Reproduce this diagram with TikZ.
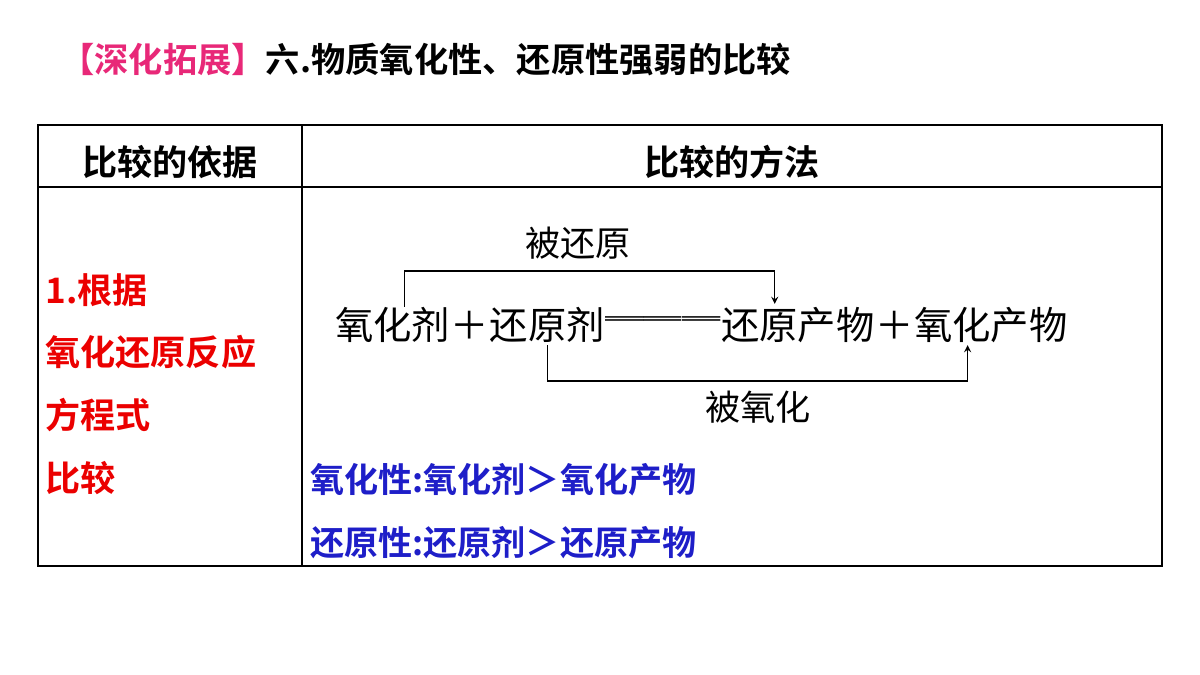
\documentclass[tikz,border=0pt]{standalone}
\usepackage{fontspec}
\newfontfamily\cjk{Noto Sans CJK SC}
\newfontfamily\cjkb{Noto Sans CJK SC Bold}
\usetikzlibrary{calc}
\definecolor{title_pink}{RGB}{232,40,120}
\definecolor{key_red}{RGB}{235,0,0}
\definecolor{rule_blue}{RGB}{30,30,200}
\tikzset{
  head/.style={font=\cjkb\fontsize{20}{23}\selectfont, inner sep=0pt},
  basis/.style={font=\cjkb\fontsize{20}{23}\selectfont, text=key_red, anchor=west, inner sep=0pt},
  rule/.style={font=\cjkb\fontsize{19.4}{23}\selectfont, text=rule_blue, anchor=west, inner sep=0pt},
  eq/.style={font=\cjk\fontsize{21.8}{26}\selectfont, inner sep=0pt},
  lbl/.style={font=\cjk\fontsize{20}{24}\selectfont, inner sep=0pt},
}
\begin{document}
\begin{tikzpicture}[x={(0.02cm,0)}, y={(0,-0.02cm)}, >=stealth]
    \useasboundingbox (0,0) rectangle (1200,675);

    % titre
    \node[head, anchor=west, font=\cjkb\fontsize{19.5}{23}\selectfont] (title) at (60,60)
      {\textcolor{title_pink}{【深化拓展】}六.物质氧化性、还原性强弱的比较};

    % tableau
    \draw[line width=0.6pt] (38,125) rectangle (1162,566);
    \draw[line width=1.6pt] (38,125) -- (1162,125);
    \draw[line width=0.6pt] (38,187) -- (1162,187);
    \draw[line width=0.6pt] (302,125) -- (302,566);

    \node[head] (hleft) at (170,162) {比较的依据};
    \node[head] (hright) at (732,162) {比较的方法};

    % colonne de gauche
    \node[basis] (b1) at (45,290) {1.根据};
    \node[basis] (b2) at (45,352) {氧化还原反应};
    \node[basis] (b3) at (45,415) {方程式};
    \node[basis] (b4) at (45,478) {比较};

    % équation
    \node[eq, anchor=west] (oxa) at (335,325) {氧化剂};
    \node[eq, anchor=west] (plus1) at (oxa.east) {＋};
    \node[eq, anchor=west] (red) at (plus1.east) {还原剂};
    \node[eq, anchor=west] (equal) at (red.east) {═══};
    \node[eq, anchor=west] (redp) at (equal.east) {还原产物};
    \node[eq, anchor=west] (plus2) at (redp.east) {＋};
    \node[eq, anchor=west] (oxp) at (plus2.east) {氧化产物};

    % flèches
    \coordinate (t1) at ($(oxa.north west)!0.6!(oxa.north east)$);
    \coordinate (t2) at ($(redp.north west)!0.35!(redp.north east)$);
    \draw[line width=0.8pt, ->] (t1) -- ++(0,-36) -| ($(t2)+(0,-3)$);
    \node[lbl] (reduced) at (578,243) {被还原};

    \coordinate (u1) at ($(red.south west)!0.5!(red.south east)$);
    \coordinate (u2) at ($(oxp.south west)!0.35!(oxp.south east)$);
    \draw[line width=0.8pt, ->] ($(u1)+(0,2)$) -- ++(0,36) -| ($(u2)+(0,2)$);
    \node[lbl] (oxidized) at (758,407) {被氧化};

    % conclusions
    \node[rule] (r1) at (310,480) {氧化性:氧化剂＞氧化产物};
    \node[rule] (r2) at (310,543) {还原性:还原剂＞还原产物};
  \end{tikzpicture}
\end{document}
